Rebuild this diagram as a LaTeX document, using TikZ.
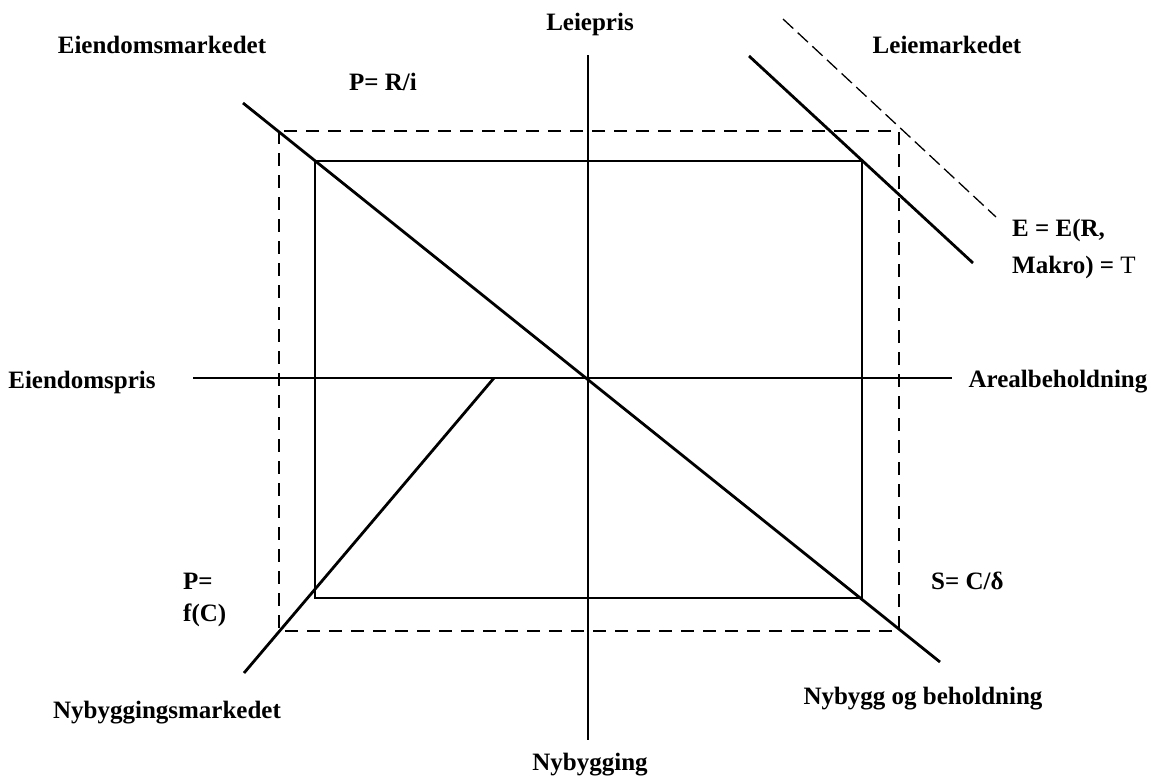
\documentclass[tikz,border=0pt]{standalone}
\usepackage{fontspec}
\setmainfont{Liberation Serif}
\begin{document}
\begin{tikzpicture}[x=1pt,y=-1pt,
  lbl/.style={font=\fontsize{25}{30}\selectfont\bfseries, inner sep=0pt},
  lblL/.style={lbl, anchor=west, align=left},
  solidline/.style={line width=2.8pt},
  dashline/.style={line width=2pt, dash pattern=on 13pt off 9pt},
  thindash/.style={line width=1.3pt, dash pattern=on 14pt off 6pt}]
\useasboundingbox[fill=white] (0,0) rectangle (1157,782);
% coordinates
\coordinate (vt) at (588,55);
\coordinate (vb) at (588,740);
\coordinate (hl) at (193,378);
\coordinate (hr) at (952,378);
\coordinate (dtl) at (243,103);
\coordinate (dbr) at (940,662);
\coordinate (ls) at (749,56);
\coordinate (le) at (973,263);
\coordinate (ds) at (783,19);
\coordinate (de) at (996,217);
\coordinate (ns) at (494,378);
\coordinate (ne) at (244,673);
\coordinate (r1) at (315,161);
\coordinate (r2) at (862,598);
\coordinate (q1) at (279,131);
\coordinate (q2) at (899,631);
% rectangles
\draw[dashline] (q1) rectangle (q2);
\draw[solidline] (r1) rectangle (r2);
% axes
\draw[solidline] (vt) -- (vb);
\draw[solidline] (hl) -- (hr);
% curves
\draw[solidline] (dtl) -- (dbr);
\draw[solidline] (ls) -- (le);
\draw[thindash] (ds) -- (de);
\draw[solidline] (ns) -- (ne);
% labels
\node[lbl] (leiepris) at (590,24) {Leiepris};
\node[lbl] (eiendm) at (162,45) {Eiendomsmarkedet};
\node[lbl] (pri) at (383,82) {P= R/i};
\node[lbl] (leiem) at (947,45) {Leiemarkedet};
\node[lblL] (eer) at (1012,230) {E = E(R,};
\node[lblL] (makro) at (1012,267) {Makro) = \mdseries T};
\node[lbl] (eiendp) at (82,382) {Eiendomspris};
\node[lbl] (areal) at (1058,382) {Arealbeholdning};
\node[lblL] (peq) at (183,581) {P=};
\node[lblL] (fc) at (183,615) {f(C)};
\node[lblL] (scd) at (931,581) {S= C/δ};
\node[lbl] (nybm) at (167,713) {Nybyggingsmarkedet};
\node[lbl] (nybb) at (923,699) {Nybygg og beholdning};
\node[lbl] (nybg) at (590,765) {Nybygging};
\end{tikzpicture}
\end{document}
